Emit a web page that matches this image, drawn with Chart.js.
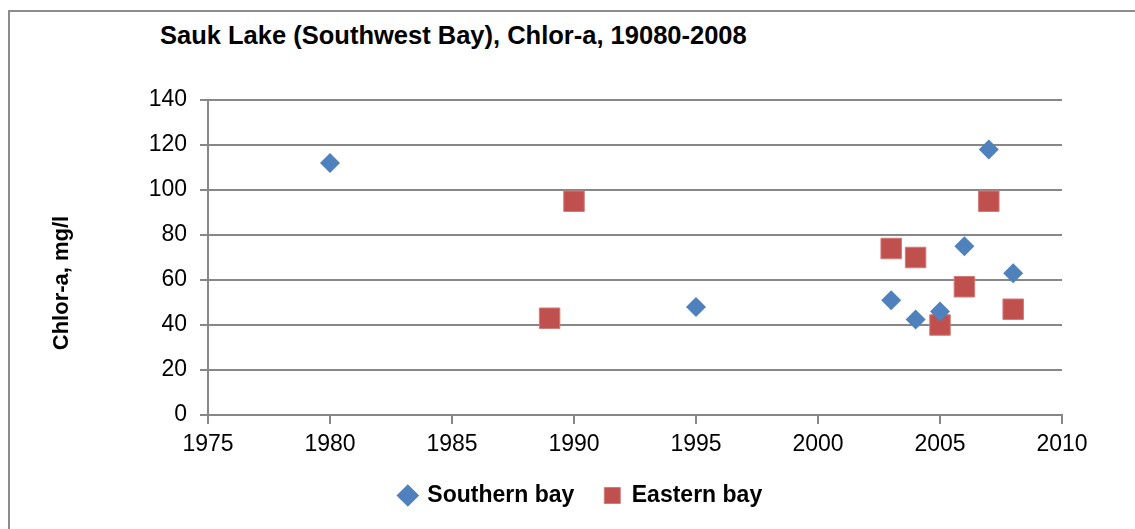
<!DOCTYPE html>
<html>
<head>
<meta charset="utf-8">
<script src="https://cdn.jsdelivr.net/npm/chart.js@4"></script>
<style>
  html, body { margin: 0; padding: 0; background: #fff; overflow: hidden; }
  #frame { position: absolute; left: 8px; top: 10px; width: 1200px; height: 600px; border: 2px solid #8c8c8c; box-sizing: border-box; }
  #title { position: absolute; left: 160px; top: 21px; font: bold 25.5px "Liberation Sans", sans-serif; color: #000; white-space: nowrap; }
  #wrap { position: absolute; left: 0; top: 0; width: 1135px; height: 529px; }
</style>
</head>
<body>
<div id="frame"></div>
<div id="title">Sauk Lake (Southwest Bay), Chlor-a, 19080-2008</div>
<div id="wrap"><canvas id="myChart"></canvas></div>
<script>
// values
const southernYears = [1980, 1995, 2003, 2004, 2005, 2006, 2007, 2008];
const southernChl = [112, 48, 51, 42.5, 46, 75, 118, 63];
const easternYears = [1989, 1990, 2003, 2004, 2005, 2006, 2007, 2008];
const easternChl = [43, 95, 74, 70, 40, 57, 95, 47];
const yAxisLabel = 'Chlor-a, mg/l';

const fontFamily = '"Liberation Sans", sans-serif';
const gridColor = '#878787';

function toPoints(xs, ys) {
  return xs.map((x, i) => ({ x: x, y: ys[i] }));
}

// y axis title, placed like the original (a bit below the middle of the axis)
const yTitlePlugin = {
  id: 'yTitle',
  afterDraw(chart) {
    const c = chart.ctx;
    c.save();
    c.translate(62, 283);
    c.rotate(-Math.PI / 2);
    c.font = 'bold 22px ' + fontFamily;
    c.fillStyle = '#000';
    c.textAlign = 'center';
    c.textBaseline = 'middle';
    c.fillText(yAxisLabel, 0, 0);
    c.restore();
  }
};

const ctx = document.getElementById('myChart').getContext('2d');
const myChart = new Chart(ctx, {
  type: 'scatter',
  data: {
    datasets: [{
      label: 'Southern bay',
      data: toPoints(southernYears, southernChl),
      pointStyle: 'rectRot',
      pointRadius: 10,
      backgroundColor: '#4F81BD',
      borderColor: '#4F81BD',
      borderWidth: 0
    }, {
      label: 'Eastern bay',
      data: toPoints(easternYears, easternChl),
      pointStyle: 'rect',
      pointRadius: 14.5,
      backgroundColor: '#C0504D',
      borderColor: '#D27C7A',
      borderWidth: 1
    }]
  },
  plugins: [yTitlePlugin],
  options: {
    responsive: true,
    maintainAspectRatio: false,
    animation: false,
    layout: { padding: { left: 100, right: 73, top: 100, bottom: 12 } },
    plugins: {
      tooltip: { enabled: false },
      legend: {
        position: 'bottom',
        labels: {
          usePointStyle: true,
          color: '#000',
          padding: 30,
          boxWidth: 16,
          boxHeight: 16,
          font: { family: fontFamily, size: 23, weight: 'bold' }
        }
      }
    },
    scales: {
      x: {
        type: 'linear',
        min: 1975,
        max: 2010,
        ticks: { stepSize: 5, color: '#000', padding: 7, font: { family: fontFamily, size: 23 }, callback: v => String(v) },
        grid: { drawOnChartArea: false, drawTicks: true, tickLength: 9, color: gridColor, lineWidth: 2 },
        border: { color: gridColor, width: 2 },
        afterFit: function (scale) { scale.height = 39; }
      },
      y: {
        min: 0,
        max: 140,
        ticks: { stepSize: 20, color: '#000', padding: 13, font: { family: fontFamily, size: 23 } },
        grid: { color: gridColor, lineWidth: 2, tickLength: 8 },
        border: { color: gridColor, width: 2 },
        afterFit: function (scale) { scale.width = 108; }
      }
    }
  }
});
</script>
</body>
</html>
